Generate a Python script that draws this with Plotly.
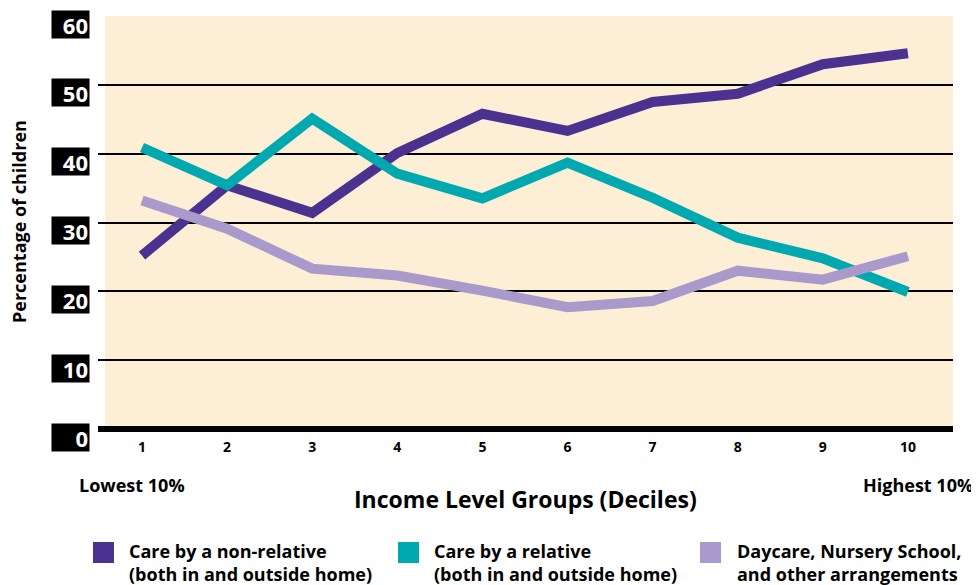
import plotly.graph_objects as go

deciles = [1, 2, 3, 4, 5, 6, 7, 8, 9, 10]
tick_labels = ["1", "2", "3", "4", "5", "6", "7", "8", "9", "10"]
non_relative = [25.2, 35.4, 31.4, 40.1, 45.8, 43.3, 47.5, 48.7, 53.0, 54.6]
relative = [40.9, 35.4, 45.1, 37.1, 33.5, 38.7, 33.6, 27.8, 24.8, 19.9]
daycare = [33.2, 29.1, 23.3, 22.3, 20.1, 17.7, 18.6, 23.0, 21.7, 25.1]
y_ticks = [0, 10, 20, 30, 40, 50, 60]
y_tick_labels = ["0", "10", "20", "30", "40", "50", "60"]

series = [
    ("Care by a non-relative<br>(both in and outside home)", non_relative, "#4b3190"),
    ("Care by a relative<br>(both in and outside home)", relative, "#00a9b0"),
    ("Daycare, Nursery School,<br>and other arrangements", daycare, "#a99acb"),
]

# page body margin offset
OX, OY = 8, 8
W, H = 979 - OX, 585 - OY
# plot area in screen pixels: x 98..953, y 16..429
SL, SR, ST, SB = 98, 953, 16, 429
L, T = SL - OX, ST - OY
R = W - (SR - OX)
B = H - (SB - OY)
PW, PH = W - L - R, H - T - B
FONT = "Open Sans"


def px(x):
    return (x - OX - L) / PW


def py(y):
    return (SB - y) / PH


fig = go.Figure()
for name, vals, col in series:
    fig.add_trace(go.Scatter(x=deciles, y=vals, mode="lines", name=name,
                             line=dict(color=col, width=10), showlegend=False))

shapes = [
    dict(type="rect", xref="paper", yref="paper", x0=px(105), x1=1, y0=0, y1=1,
         fillcolor="#fcefd6", line=dict(width=0), layer="below"),
]
annotations = []

for v, t in zip(y_ticks, y_tick_labels):
    annotations.append(dict(x=px(90), xref="paper", xanchor="right", y=v, yref="y",
                            yanchor="middle", yshift=-8, text="<b>%s</b>" % t, showarrow=False,
                            bgcolor="black", width=35, height=25, align="right",
                            borderpad=1,
                            font=dict(family=FONT, size=22, color="white")))

annotations += [
    dict(x=px(19), y=py(222), xref="paper", yref="paper", xanchor="center", yanchor="middle",
         text="<b>Percentage of children</b>",
         textangle=-90, showarrow=False, font=dict(family=FONT, size=18, color="black")),
    dict(x=px(525), y=py(499), xref="paper", yref="paper", xanchor="center", yanchor="middle",
         text="<b>Income Level Groups (Deciles)</b>",
         showarrow=False, font=dict(family=FONT, size=23, color="black")),
    dict(x=px(77), y=py(485), xref="paper", yref="paper", xanchor="left", yanchor="middle",
         text="<b>Lowest 10%</b>", showarrow=False, font=dict(family=FONT, size=18, color="black")),
    dict(x=px(975), y=py(485), xref="paper", yref="paper", xanchor="right", yanchor="middle",
         text="<b>Highest 10%</b>", showarrow=False, font=dict(family=FONT, size=18, color="black")),
]

legend_sq = [93, 398, 700]
legend_tx = [127, 432, 735]
for (name, vals, col), sx, tx in zip(series, legend_sq, legend_tx):
    shapes.append(dict(type="rect", xref="paper", yref="paper", x0=px(sx), x1=px(sx + 21),
                       y0=py(563), y1=py(542), fillcolor=col, line=dict(width=0)))
    annotations.append(dict(x=px(tx), y=py(562), xref="paper", yref="paper", xanchor="left",
                            yanchor="middle", align="left", text="<b>%s</b>" % name,
                            showarrow=False,
                            font=dict(family=FONT, size=18, color="black")))

fig.update_layout(
    width=W, height=H,
    margin=dict(l=L, r=R, t=T, b=B),
    paper_bgcolor="white", plot_bgcolor="white",
    shapes=shapes, annotations=annotations,
    xaxis=dict(range=[0.483, 10.53], tickvals=deciles, ticktext=tick_labels,
               showgrid=False, zeroline=False, showline=False, ticks="",
               ticklabelstandoff=8,
               tickfont=dict(family=FONT, size=14, color="black", weight="bold")),
    yaxis=dict(range=[0, 60], tickvals=y_ticks, showticklabels=False,
               showgrid=True, gridcolor="black", gridwidth=1.5,
               zeroline=True, zerolinecolor="black", zerolinewidth=6, showline=False),
)

fig.write_html("out.html")
